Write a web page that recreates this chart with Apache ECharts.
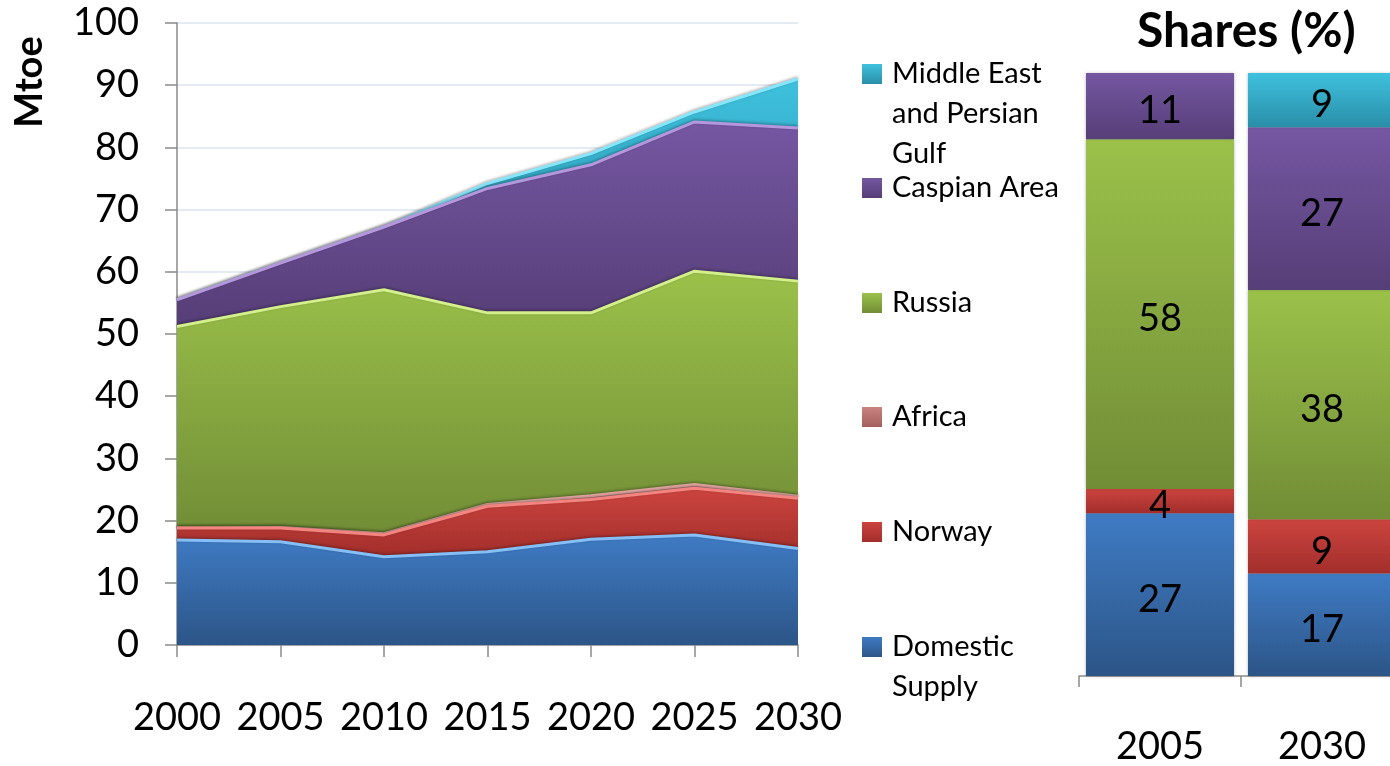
<!DOCTYPE html>
<html><head><meta charset="utf-8">
<script src="https://cdn.jsdelivr.net/npm/echarts@6/dist/echarts.min.js"></script>
<style>html,body{margin:0;padding:0;background:#fff;overflow:hidden;width:1390px;height:766px}#c{width:1403px;height:766px}</style>
</head><body><div id="c"></div>
<script>
// ---- data ----
const years = ['2000', '2005', '2010', '2015', '2020', '2025', '2030'];
const seriesNames = ['Domestic Supply', 'Norway', 'Africa', 'Russia', 'Caspian Area', 'Middle East and Persian Gulf'];
const domestic   = [16.9, 16.6, 14.2, 15.0, 17.0, 17.7, 15.5];
const norway     = [1.9, 2.2, 3.5, 7.3, 6.4, 7.5, 8.1];
const africa     = [0, 0.1, 0.2, 0.3, 0.6, 0.6, 0.3];
const russia     = [32.4, 35.5, 39.2, 30.8, 29.4, 34.3, 34.6];
const caspian    = [4.3, 7.0, 10.1, 20.0, 23.8, 24.0, 24.6];
const middleEast = [0, 0, 0, 0.8, 1.8, 1.6, 7.9];

const shareYears      = ['2005', '2030'];
const shareDomestic   = [27, 17];
const shareNorway     = [4, 9];
const shareAfrica     = [0, 0];
const shareRussia     = [58, 38];
const shareCaspian    = [11, 27];
const shareMiddleEast = [0, 9];

const legendLabels = [['Domestic', 'Supply'], ['Norway'], ['Africa'], ['Russia'], ['Caspian Area'], ['Middle East', 'and Persian', 'Gulf']];

// ---- styles ----
const FONT = 'Lato';
const palette = [
  {top: '#3f7bc4', bottom: '#2c5587', light: '#86bff8'},
  {top: '#cc443f', bottom: '#a22e2b', light: '#f4847f'},
  {top: '#c98380', bottom: '#a4605d', light: '#e3a5a2'},
  {top: '#9bc14a', bottom: '#718d36', light: '#d3f08c'},
  {top: '#7557a2', bottom: '#563e77', light: '#b497dc'},
  {top: '#3ec1de', bottom: '#2a8ea8', light: '#86e6fb'}
];
const areaData = [domestic, norway, africa, russia, caspian, middleEast];
const shareData = [shareDomestic, shareNorway, shareAfrica, shareRussia, shareCaspian, shareMiddleEast];
const legendIconY = [647, 532, 417, 303, 188, 74];
const LH = 40;

function grad(c) {
  return new echarts.graphic.LinearGradient(0, 0, 0, 1, [
    {offset: 0, color: c.top}, {offset: 1, color: c.bottom}
  ]);
}

const axisGray = '#8a8a8a';
const series = [];
seriesNames.forEach((name, i) => {
  const c = palette[i];
  series.push({
    name, type: 'line', stack: 'mtoe', xAxisIndex: 0, yAxisIndex: 0,
    data: areaData[i], symbol: 'none', showSymbol: false, smooth: false,
    lineStyle: {color: c.light, width: 3, shadowColor: 'rgba(0,0,0,0.35)', shadowBlur: 3, shadowOffsetY: -1},
    areaStyle: {color: grad(c), opacity: 1},
    itemStyle: {color: c.top},
    z: 10 - i, silent: true, emphasis: {disabled: true}
  });
});
seriesNames.forEach((name, i) => {
  const c = palette[i];
  series.push({
    name, type: 'bar', stack: 'share', xAxisIndex: 1, yAxisIndex: 1,
    data: shareData[i], barWidth: 148,
    itemStyle: {color: grad(c), shadowColor: 'rgba(0,0,0,0.3)', shadowBlur: 3},
    label: {show: true, position: 'inside', offset: [0, 5], color: '#000', fontFamily: FONT, fontSize: 38,
      textBorderWidth: 0, formatter: p => (p.value > 0 ? String(p.value) : '')},
    silent: true, emphasis: {disabled: true}
  });
});

// one legend per item; blank leading lines keep the icon level with the first text line
const legends = seriesNames.map((name, i) => {
  const lines = legendLabels[i];
  const blanks = lines.length - 1;
  const text = '\n'.repeat(blanks) + lines.join('\n');
  const h = (lines.length + blanks) * LH;
  return {
    show: true, left: 862, top: legendIconY[i] - h / 2, padding: 0,
    orient: 'vertical', icon: 'rect', itemWidth: 20, itemHeight: 20,
    selectedMode: false,
    data: [{name, itemStyle: {color: grad(palette[i]), borderWidth: 0}}],
    formatter: () => text,
    textStyle: {fontFamily: FONT, fontSize: 29, color: '#000', lineHeight: LH, padding: [0, 0, 0, 5]}
  };
});

const option = {
  backgroundColor: '#fff',
  animation: false,
  title: {
    text: 'Shares (%)', left: 1132, top: 3,
    textStyle: {fontFamily: FONT, fontWeight: 'bold', fontSize: 48, color: '#000'}
  },
  legend: legends,
  graphic: [{
    type: 'text', x: 30, y: 82, rotation: Math.PI / 2,
    style: {text: 'Mtoe', font: 'bold 38px Lato', fill: '#000', align: 'center', verticalAlign: 'middle'}
  }],
  grid: [
    {left: 177, width: 621, top: 23, bottom: 121, containLabel: false},
    {left: 1079, right: 0, top: 73, bottom: 85, containLabel: false}
  ],
  xAxis: [
    {type: 'category', gridIndex: 0, data: years, boundaryGap: false,
      axisLine: {lineStyle: {color: axisGray, width: 1.5}},
      axisTick: {show: true, length: 12, lineStyle: {color: axisGray, width: 1.5}},
      axisLabel: {fontFamily: FONT, fontSize: 38, color: '#000', margin: 54, interval: 0},
      splitLine: {show: false}},
    {type: 'category', gridIndex: 1, data: shareYears, boundaryGap: true,
      axisLine: {lineStyle: {color: axisGray, width: 1.5}},
      axisTick: {show: true, length: 11, alignWithLabel: false, lineStyle: {color: axisGray, width: 1.5}},
      axisLabel: {fontFamily: FONT, fontSize: 38, color: '#000', margin: 52, interval: 0},
      splitLine: {show: false}}
  ],
  yAxis: [
    {type: 'value', gridIndex: 0, min: 0, max: 100, interval: 10,
      axisLine: {show: true, lineStyle: {color: axisGray, width: 1.5}},
      axisTick: {show: true, length: 12, lineStyle: {color: axisGray, width: 1.5}},
      axisLabel: {fontFamily: FONT, fontSize: 38, color: '#000', margin: 38},
      splitLine: {show: true, lineStyle: {color: '#dbe5f1', width: 1.5}}},
    {type: 'value', gridIndex: 1, min: 0, max: 100, show: false,
      splitLine: {show: false}}
  ],
  series
};

const chart = echarts.init(document.getElementById('c'), null, {renderer: 'canvas'});
chart.setOption(option);
</script>
</body></html>
